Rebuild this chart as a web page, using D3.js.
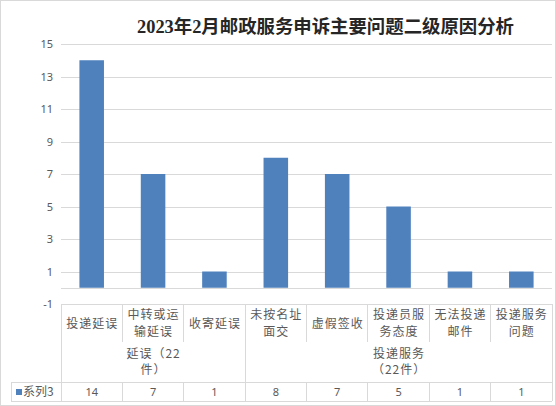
<!DOCTYPE html>
<html>
<head>
<meta charset="utf-8">
<script src="https://cdn.jsdelivr.net/npm/d3@7"></script>
<style>
  body { margin: 0; background: #fff; }
  text { font-family: "Noto Sans CJK SC", "Noto Sans", sans-serif; }
</style>
</head>
<body>
<svg id="chart"></svg>
<script>
const width = 556;
const height = 406;

// 数据
const categories = ["投递延误", "中转或运\n输延误", "收寄延误", "未按名址\n面交", "虚假签收", "投递员服\n务态度", "无法投递\n邮件", "投递服务\n问题"];
const values = [14, 7, 1, 8, 7, 5, 1, 1];
const groupNames = ["延误（22\n件）", "投递服务\n（22件）"];
const groupSizes = [3, 5];
const yTicks = [-1, 1, 3, 5, 7, 9, 11, 13, 15];
const seriesName = "系列3";
const title = "2023年2月邮政服务申诉主要问题二级原因分析";

const gridColor = '#d9d9d9';
const textColor = '#595959';
const barColor = '#4f81bd';

const svg = d3.select('#chart')
  .attr('width', width)
  .attr('height', height);

// 外框
svg.append('rect')
  .attr('x', 0.5).attr('y', 0.5)
  .attr('width', width - 1).attr('height', height - 1)
  .attr('fill', '#fff')
  .attr('stroke', gridColor);

const plotLeft = 61, plotRight = 552, plotTop = 44, plotBottom = 304;

const y = d3.scaleLinear()
  .domain([-1, 15])
  .range([plotBottom, plotTop]);

const x = d3.scaleBand()
  .domain(categories)
  .range([plotLeft, plotRight])
  .paddingInner(0.6)
  .paddingOuter(0.3);

// 表格列
const col = d3.scaleBand()
  .domain(categories)
  .range([plotLeft, plotRight]);

// 网格线
svg.append('g')
  .selectAll('line')
  .data(yTicks)
  .enter().append('line')
  .attr('x1', plotLeft).attr('x2', plotRight)
  .attr('y1', d => Math.round(y(d)) + 0.5)
  .attr('y2', d => Math.round(y(d)) + 0.5)
  .attr('stroke', gridColor);

// 纵轴
const yAxis = svg.append('g')
  .attr('transform', `translate(${plotLeft - 8},0)`)
  .call(d3.axisLeft(y).tickValues(yTicks).tickSize(0).tickPadding(0)
    .tickFormat(d => String(d)));
yAxis.select('.domain').remove();
yAxis.selectAll('text')
  .attr('fill', textColor)
  .style('font-family', '"Noto Sans", sans-serif')
  .style('font-size', '11px');

// 柱
svg.append('g')
  .selectAll('rect')
  .data(values)
  .enter().append('rect')
  .attr('x', (d, i) => x(categories[i]))
  .attr('width', x.bandwidth())
  .attr('y', d => y(d))
  .attr('height', d => y(0) - y(d))
  .attr('fill', barColor);

// 横轴（0）
svg.append('line')
  .attr('x1', plotLeft).attr('x2', plotRight)
  .attr('y1', Math.round(y(0)) + 0.5).attr('y2', Math.round(y(0)) + 0.5)
  .attr('stroke', gridColor);

// 数据表
const rowCatBottom = 342, rowGroupBottom = 382, tableBottom = 401, legendLeft = 11;
const table = svg.append('g').attr('stroke', gridColor).attr('shape-rendering', 'crispEdges');

table.append('line').attr('x1', plotLeft).attr('x2', plotRight).attr('y1', plotBottom).attr('y2', plotBottom);
table.append('line').attr('x1', legendLeft).attr('x2', plotRight).attr('y1', rowGroupBottom).attr('y2', rowGroupBottom);
table.append('line').attr('x1', legendLeft).attr('x2', plotRight).attr('y1', tableBottom).attr('y2', tableBottom);
table.append('line').attr('x1', legendLeft).attr('x2', legendLeft).attr('y1', rowGroupBottom).attr('y2', tableBottom);

// 分组边界
const groupEdges = [0];
groupSizes.forEach(s => groupEdges.push(groupEdges[groupEdges.length - 1] + s));
const colEdge = i => plotLeft + i * col.step();

d3.range(categories.length + 1).forEach(i => {
  const full = groupEdges.includes(i);
  table.append('line')
    .attr('x1', colEdge(i)).attr('x2', colEdge(i))
    .attr('y1', plotBottom).attr('y2', full ? tableBottom : rowCatBottom);
  if (!full) {
    table.append('line')
      .attr('x1', colEdge(i)).attr('x2', colEdge(i))
      .attr('y1', rowGroupBottom).attr('y2', tableBottom);
  }
});

function multiline(g, str, cx, cy, lh) {
  const lines = str.split('\n');
  const t = g.append('text')
    .attr('text-anchor', 'middle')
    .attr('fill', textColor)
    .style('font-size', '12px')
    .style('letter-spacing', '1px');
  lines.forEach((ln, k) => {
    t.append('tspan')
      .attr('x', cx + 0.5)
      .attr('y', cy + (k - (lines.length - 1) / 2) * lh + 4.3)
      .text(ln);
  });
}

const labels = svg.append('g');
categories.forEach(c => {
  multiline(labels, c, col(c) + col.bandwidth() / 2, 323.3, 16.7);
});
groupNames.forEach((g, i) => {
  const cx = (colEdge(groupEdges[i]) + colEdge(groupEdges[i + 1])) / 2;
  multiline(labels, g, cx, 362, 16.3);
});

// 系列行
svg.append('rect')
  .attr('x', 16).attr('y', 389)
  .attr('width', 6).attr('height', 6)
  .attr('fill', barColor);
svg.append('text')
  .attr('x', 23).attr('y', 396.3)
  .attr('fill', textColor)
  .style('font-size', '12px')
  .text(seriesName);
svg.append('g')
  .selectAll('text')
  .data(values)
  .enter().append('text')
  .attr('x', (d, i) => col(categories[i]) + col.bandwidth() / 2)
  .attr('y', 396)
  .attr('text-anchor', 'middle')
  .attr('fill', textColor)
  .style('font-family', '"Noto Sans", sans-serif')
  .style('font-size', '11px')
  .text(d => d);

// 标题
svg.append('text')
  .attr('x', 325.5)
  .attr('y', 33)
  .attr('text-anchor', 'middle')
  .attr('fill', '#262626')
  .style('font-family', '"Liberation Serif", "Noto Sans CJK SC", serif')
  .style('font-weight', 'bold')
  .style('font-size', '18.4px')
  .text(title);
</script>
</body>
</html>
